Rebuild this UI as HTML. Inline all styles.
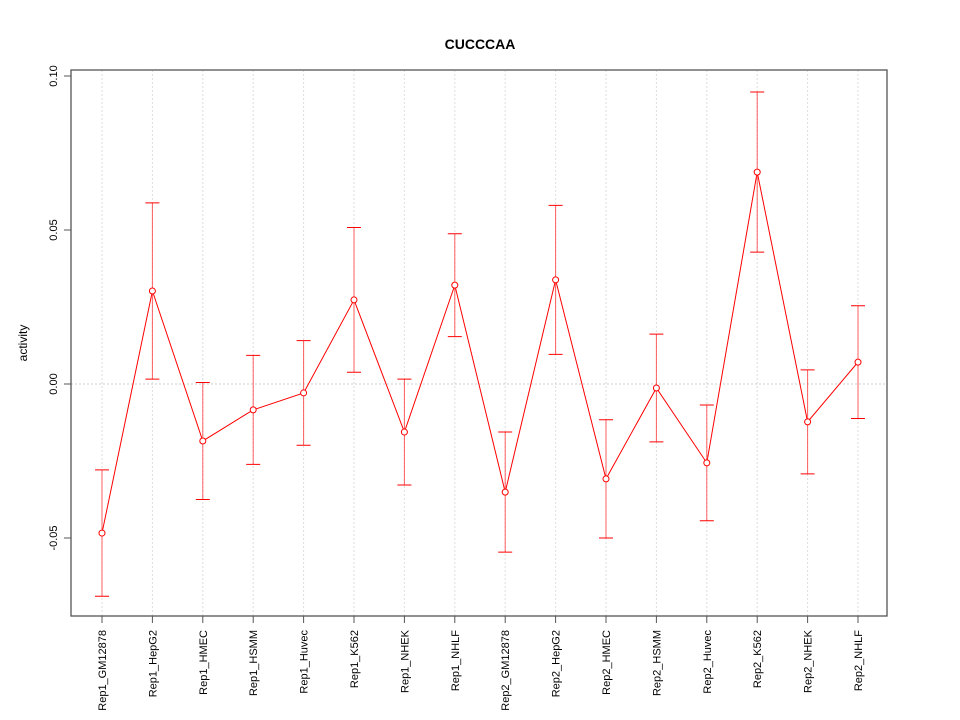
<!DOCTYPE html>
<html><head><meta charset="utf-8"><style>body{margin:0;background:#fff}svg{display:block}</style></head>
<body>
<svg id="chart" width="960" height="720" xmlns="http://www.w3.org/2000/svg" font-family="Liberation Sans, sans-serif">
<text x="480" y="49" text-anchor="middle" font-size="14" font-weight="bold">CUCCCAA</text>
<text x="27" y="343" text-anchor="middle" font-size="12" transform="rotate(-90 27 343)">activity</text>
<g id="grid"></g><g id="axes"></g><g id="marks"></g>
<rect x="71" y="70" width="816" height="546" fill="none" stroke="#555" stroke-width="1.3"/>
</svg>
<script>
const categories=["Rep1_GM12878","Rep1_HepG2","Rep1_HMEC","Rep1_HSMM","Rep1_Huvec","Rep1_K562","Rep1_NHEK","Rep1_NHLF","Rep2_GM12878","Rep2_HepG2","Rep2_HMEC","Rep2_HSMM","Rep2_Huvec","Rep2_K562","Rep2_NHEK","Rep2_NHLF"];
const values=[-0.0484,0.0302,-0.0185,-0.0084,-0.0029,0.0273,-0.0156,0.0321,-0.0351,0.0338,-0.0308,-0.0013,-0.0256,0.0688,-0.0123,0.0071];
const errors=[0.0205,0.0286,0.019,0.0177,0.017,0.0235,0.0172,0.0167,0.0195,0.0242,0.0192,0.0175,0.0188,0.026,0.0169,0.0183];
const yTicks=[-0.05,0.00,0.05,0.10];
const yTickLabels=["-0.05","0.00","0.05","0.10"];
const NS="http://www.w3.org/2000/svg";
const y=v=>384-v*3080;
const x=i=>102+i*(858-102)/(categories.length-1);
function mk(tag,attrs,parent,text){const e=document.createElementNS(NS,tag);for(const k in attrs)e.setAttribute(k,attrs[k]);if(text!==undefined)e.textContent=text;document.getElementById(parent).appendChild(e);return e;}
const zl=mk("line",{x1:71,x2:887,y1:y(0),y2:y(0),stroke:"#ccc","stroke-dasharray":"2,2"},"grid");


const ax=mk("line",{x1:71,x2:71,y1:y(yTicks[yTicks.length-1]),y2:y(yTicks[0]),stroke:"#555"},"axes");


yTicks.forEach((t,i)=>{
 const tk=mk("line",{x1:64,x2:71,y1:y(t),y2:y(t),stroke:"#555"},"axes");
 
 
 const lb=mk("text",{x:57,y:y(t),"font-size":11,"text-anchor":"middle",transform:`rotate(-90 57 ${y(t)})`},"axes",yTickLabels[i]);
 
 
});
categories.forEach((c,i)=>{
 const g=mk("line",{x1:x(i),x2:x(i),y1:70,y2:616,stroke:"#ddd","stroke-dasharray":"2,2"},"grid");
 
 
 const tk=mk("line",{x1:x(i),x2:x(i),y1:616,y2:623,stroke:"#555"},"axes");
 
 
 const lb=mk("text",{x:x(i)+4,y:630,"font-size":11,"text-anchor":"end",transform:`rotate(-90 ${x(i)+4} 630)`},"axes",c);
 
 
});
const pts=values.map((v,i)=>x(i)+","+y(v)).join(" ");
const pl=mk("polyline",{points:pts,fill:"none",stroke:"#f00"},"marks");


values.forEach((v,i)=>{
 const hi=y(v+errors[i]),lo=y(v-errors[i]);
 const eb=mk("path",{d:`M${x(i)},${hi}V${lo}`,stroke:"#f44","stroke-opacity":"0.85",fill:"none"},"marks");
 
 
 const cp=mk("path",{d:`M${x(i)-7},${hi}H${x(i)+7}M${x(i)-7},${lo}H${x(i)+7}`,stroke:"#f00",fill:"none"},"marks");
 
 
 const p=mk("circle",{cx:x(i),cy:y(v),r:3,fill:"#fff",stroke:"#f00"},"marks");
 
 
});
</script>
</body></html>
